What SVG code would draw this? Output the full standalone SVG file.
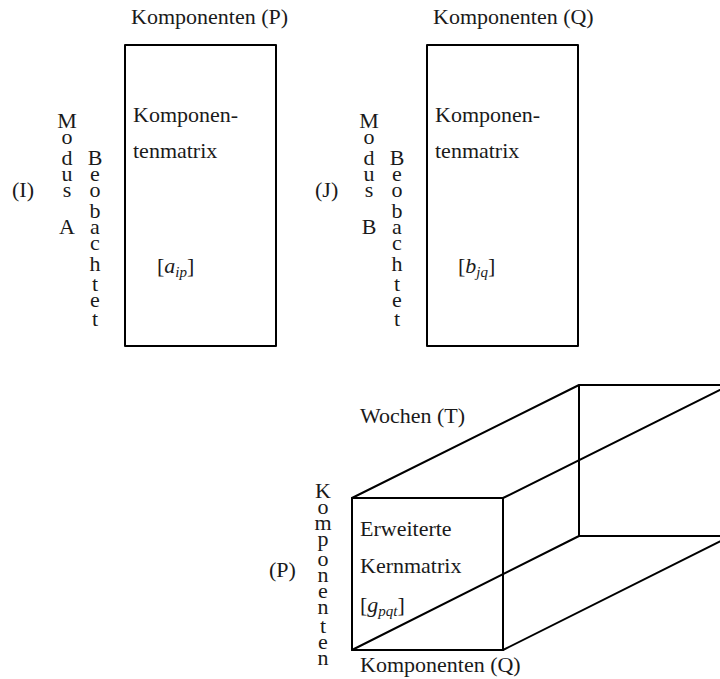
<svg xmlns="http://www.w3.org/2000/svg" width="720" height="679" viewBox="0 0 720 679">
<style>
text{font-family:"Liberation Serif","Times New Roman",serif;font-size:22px;fill:#1a1a1a}
.v{text-anchor:middle}
.m{font-style:italic}
.sub{font-style:italic;font-size:15px}
.edge{fill:none;stroke:#000;stroke-width:2;stroke-linecap:round;stroke-linejoin:round}
</style>
<rect width="720" height="679" fill="#fff"/>

<g id="matrix-A">
<rect class="edge" x="125" y="45" width="151" height="301"/>
<text x="131" y="24">Komponenten (P)</text>
<text x="133" y="122">Komponen-</text>
<text x="133" y="158">tenmatrix</text>
<text x="157" y="273">[<tspan class="m">a</tspan><tspan class="sub" dy="4">ip</tspan><tspan dy="-4">]</tspan></text>
<text x="12" y="197">(I)</text>
<text class="v"><tspan x="67" y="127.7">M</tspan><tspan x="67" y="143.7">o</tspan><tspan x="67" y="165">d</tspan><tspan x="67" y="181">u</tspan><tspan x="67" y="197">s</tspan><tspan x="67" y="233.5">A</tspan></text>
<text class="v"><tspan x="95" y="165">B</tspan><tspan x="95" y="181">e</tspan><tspan x="95" y="197">o</tspan><tspan x="95" y="217.5">b</tspan><tspan x="95" y="233.5">a</tspan><tspan x="95" y="249.5">c</tspan><tspan x="95" y="270.8">h</tspan><tspan x="95" y="290.5">t</tspan><tspan x="95" y="306.5">e</tspan><tspan x="95" y="326">t</tspan></text>
</g>

<g id="matrix-B">
<rect class="edge" x="427" y="45" width="151" height="301"/>
<text x="433" y="24">Komponenten (Q)</text>
<text x="435" y="122">Komponen-</text>
<text x="435" y="158">tenmatrix</text>
<text x="458" y="273">[<tspan class="m">b</tspan><tspan class="sub" dy="4">jq</tspan><tspan dy="-4">]</tspan></text>
<text x="315" y="197">(J)</text>
<text class="v"><tspan x="369" y="127.7">M</tspan><tspan x="369" y="143.7">o</tspan><tspan x="369" y="165">d</tspan><tspan x="369" y="181">u</tspan><tspan x="369" y="197">s</tspan><tspan x="369" y="233.5">B</tspan></text>
<text class="v"><tspan x="397" y="165">B</tspan><tspan x="397" y="181">e</tspan><tspan x="397" y="197">o</tspan><tspan x="397" y="217.5">b</tspan><tspan x="397" y="233.5">a</tspan><tspan x="397" y="249.5">c</tspan><tspan x="397" y="270.8">h</tspan><tspan x="397" y="290.5">t</tspan><tspan x="397" y="306.5">e</tspan><tspan x="397" y="326">t</tspan></text>
</g>

<g id="core-array">
<path class="edge" d="M579 385 H720 M579 385 V536 H720 M352 498 L579 385 M503 498 L720 390 M352 650 L579 536 M503 650 L720 541.5"/>
<rect class="edge" x="352" y="498" width="151" height="152"/>
<text x="360" y="423">Wochen (T)</text>
<text x="360" y="536">Erweiterte</text>
<text x="360" y="573">Kernmatrix</text>
<text x="360" y="612">[<tspan class="m">g</tspan><tspan class="sub" dy="4">pqt</tspan><tspan dy="-4">]</tspan></text>
<text x="360" y="672">Komponenten (Q)</text>
<text x="269" y="577">(P)</text>
<text class="v"><tspan x="323" y="497.7">K</tspan><tspan x="323" y="513.7">o</tspan><tspan x="323" y="529.7">m</tspan><tspan x="323" y="545.7">p</tspan><tspan x="323" y="565.6">o</tspan><tspan x="323" y="581.6">n</tspan><tspan x="323" y="597.6">e</tspan><tspan x="323" y="613.6">n</tspan><tspan x="323" y="633.3">t</tspan><tspan x="323" y="649.3">e</tspan><tspan x="323" y="665.3">n</tspan></text>
</g>
</svg>
